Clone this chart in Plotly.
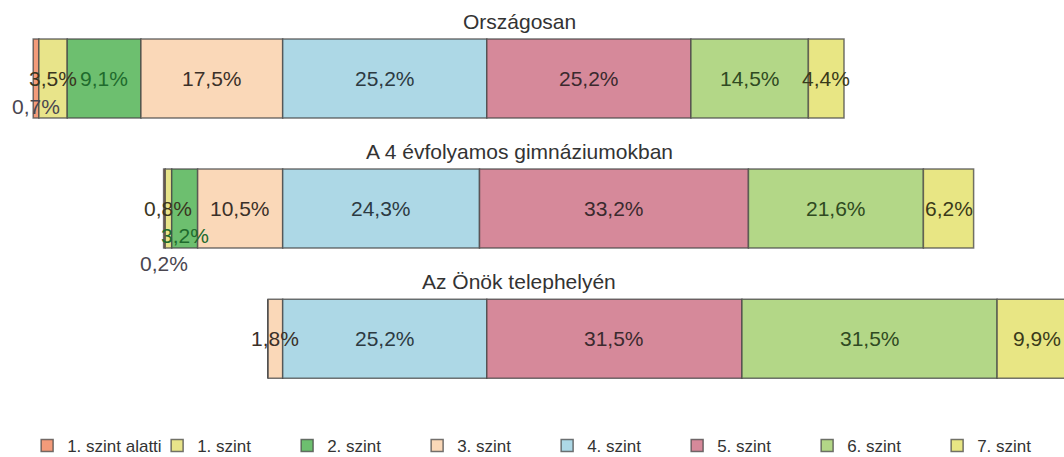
import plotly.graph_objects as go

# ---- data ----
groups = ["Országosan", "A 4 évfolyamos gimnáziumokban", "Az Önök telephelyén"]
levels = ["1. szint alatti", "1. szint", "2. szint", "3. szint",
          "4. szint", "5. szint", "6. szint", "7. szint"]
below_1 = [0.7, 0.2, 0.0]
level_1 = [3.5, 0.8, 0.0]
level_2 = [9.1, 3.2, 0.0]
level_3 = [17.5, 10.5, 1.8]
level_4 = [25.2, 24.3, 25.2]
level_5 = [25.2, 33.2, 31.5]
level_6 = [14.5, 21.6, 31.5]
level_7 = [4.4, 6.2, 9.9]

series = [below_1, level_1, level_2, level_3, level_4, level_5, level_6, level_7]
n_left = 4  # levels drawn to the left of the 3/4 boundary

# ---- style ----
fills = ["#F39B7A", "#E8E48A", "#6DBF6F", "#FAD8B8",
         "#ADD8E6", "#D6899A", "#B3D787", "#E8E684"]
text_cols = ["#4a4650", "#3a3520", "#1f6b2d", "#3a3028",
             "#2c3a42", "#3a2a2e", "#2f4a22", "#3a3a1a"]
label_drop = {(0, 0): 28, (1, 0): 55, (1, 2): 27}  # px downward shift for tiny segments
FONT = "Liberation Sans, Arial, sans-serif"
BAR_W = 0.607

rows = list(range(len(groups)))

# bases computed from data
bases = []
for li, vals in enumerate(series):
    b = []
    for gi in rows:
        if li < n_left:
            b.append(-sum(series[k][gi] for k in range(li, n_left)))
        else:
            b.append(sum(series[k][gi] for k in range(n_left, li)))
    bases.append(b)

fig = go.Figure()
for li, (name, vals) in enumerate(zip(levels, series)):
    fig.add_trace(go.Bar(
        name=name, orientation="h", y=rows, x=vals, base=bases[li],
        width=BAR_W,
        marker=dict(color=fills[li], line=dict(color="rgba(70,70,70,0.75)", width=1.5)),
        hoverinfo="name+x",
    ))

annotations = []
for li, vals in enumerate(series):
    for gi in rows:
        v = vals[gi]
        if v <= 0:
            continue
        annotations.append(dict(
            x=bases[li][gi] + v / 2, y=gi, xref="x", yref="y",
            text=f"{v:.1f}".replace(".", ",") + "%",
            showarrow=False, yshift=-label_drop.get((gi, li), 0),
            font=dict(family=FONT, size=21, color=text_cols[li]),
        ))
for gi, g in enumerate(groups):
    annotations.append(dict(
        x=0.488, xref="paper", y=gi - BAR_W / 2, yref="y", yanchor="bottom",
        text=g, showarrow=False, yshift=4,
        font=dict(family=FONT, size=21, color="#333333"),
    ))

fig.update_layout(
    width=1064, height=457,
    margin=dict(l=0, r=0, t=0, b=40, autoexpand=False),
    barmode="overlay",
    plot_bgcolor="white", paper_bgcolor="white",
    xaxis=dict(range=[-34.9, 96.46], visible=False),
    yaxis=dict(range=[2.602, -0.603], visible=False),
    annotations=annotations,
    showlegend=True,
    legend=dict(orientation="h", xref="paper", x=0.0255, yref="container", y=0.024,
                yanchor="middle", xanchor="left", entrywidth=85, traceorder="normal",
                font=dict(family=FONT, size=17, color="#333333"), itemclick=False),
    font=dict(family=FONT),
)

fig.write_html(
    "out.html",
    config={"displayModeBar": False},
    post_script="document.body.style.margin='0';document.body.style.padding='0';"
                "document.body.style.overflow='hidden';",
)
